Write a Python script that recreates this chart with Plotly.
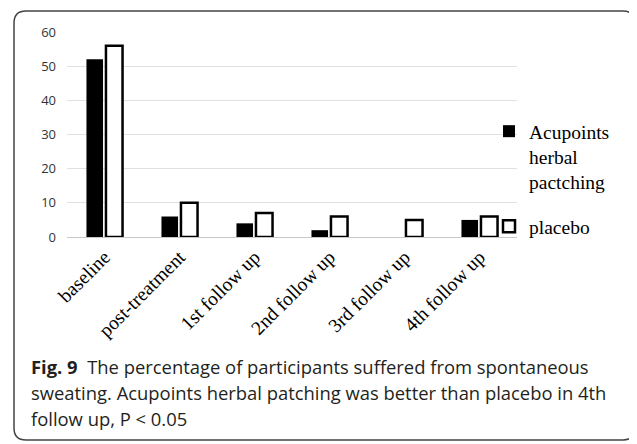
import plotly.graph_objects as go

categories = ["baseline", "post-treatment", "1st follow up", "2nd follow up", "3rd follow up", "4th follow up"]
acupoints = [52, 6, 4, 2, 0, 5]
placebo = [56, 10, 7, 6, 5, 6]
y_ticks = [0, 10, 20, 30, 40, 50, 60]

OFF = 8  # page body margin offset
W, H = 637 - OFF, 444 - OFF
L, R, T, B = 67 - OFF, 517 - OFF, 32 - OFF, 237 - OFF  # plot area in figure px

def px(xp):
    """screen x (px) -> paper fraction"""
    return (xp - OFF - L) / (R - L)

def py(yp):
    """screen y (px) -> paper fraction"""
    return (B - (yp - OFF)) / (B - T)

fig = go.Figure()
fig.add_trace(go.Bar(
    x=categories, y=acupoints, name="Acupoints<br>herbal<br>pactching",
    marker=dict(color="black", line=dict(color="black", width=0)),
    legend="legend",
))
fig.add_trace(go.Bar(
    x=categories, y=placebo, name="placebo",
    marker=dict(color="white", line=dict(color="black", width=2.5)),
    legend="legend2",
))

# rounded border
x0, x1, y0, y1, r = 14, 635, 11, 440, 12
path = (
    f"M {px(x0+r)},{py(y0)} L {px(x1-r)},{py(y0)} "
    f"Q {px(x1)},{py(y0)} {px(x1)},{py(y0+r)} "
    f"L {px(x1)},{py(y1-r)} Q {px(x1)},{py(y1)} {px(x1-r)},{py(y1)} "
    f"L {px(x0+r)},{py(y1)} Q {px(x0)},{py(y1)} {px(x0)},{py(y1-r)} "
    f"L {px(x0)},{py(y0+r)} Q {px(x0)},{py(y0)} {px(x0+r)},{py(y0)} Z"
)

cap_font = dict(family="Open Sans, sans-serif", size=18.4, color="#231f20")
lines = [
    "<b>Fig. 9</b>  The percentage of participants suffered from spontaneous",
    "sweating. Acupoints herbal patching was better than placebo in 4th",
    "follow up, P < 0.05",
]
line_y = [366, 392, 418]
annotations = []
for t, yy in zip(lines, line_y):
    annotations.append(dict(
        text=t, x=px(29), y=py(yy), xref="paper", yref="paper",
        xanchor="left", yanchor="middle", showarrow=False, align="left",
        font=cap_font,
    ))

serif = "Liberation Serif, Times New Roman, serif"
fig.update_layout(
    width=W, height=H,
    margin=dict(l=L, r=W - R, t=T, b=H - B, pad=0, autoexpand=False),
    paper_bgcolor="white", plot_bgcolor="white",
    barmode="group", bargap=0.48, bargroupgap=0.15,
    showlegend=True,
    legend=dict(x=px(489), y=py(112), xanchor="left", yanchor="top",
                valign="top", itemwidth=30, bgcolor="rgba(0,0,0,0)",
                font=dict(family=serif, size=19.5, color="black")),
    legend2=dict(x=px(489), y=py(207), xanchor="left", yanchor="top",
                 itemwidth=30, bgcolor="rgba(0,0,0,0)",
                 font=dict(family=serif, size=19.5, color="black")),
    xaxis=dict(
        tickangle=-45, showgrid=False, showline=True, linecolor="#c8c8c8", linewidth=1,
        tickfont=dict(family=serif, size=19.5, color="black"),
        ticks="", automargin=False,
    ),
    yaxis=dict(
        range=[0, 60], tickvals=y_ticks, showgrid=True, gridcolor="#e0e0e0", gridwidth=1,
        zeroline=False, showline=False, ticks="", ticklabelstandoff=10, automargin=False,
        tickfont=dict(family="Open Sans, sans-serif", size=13, color="#333333"),
    ),
    shapes=[dict(type="path", path=path, xref="paper", yref="paper",
                 line=dict(color="#444444", width=1.5), fillcolor="rgba(0,0,0,0)", layer="below")],
    annotations=annotations,
)

fig.write_html("out.html")
